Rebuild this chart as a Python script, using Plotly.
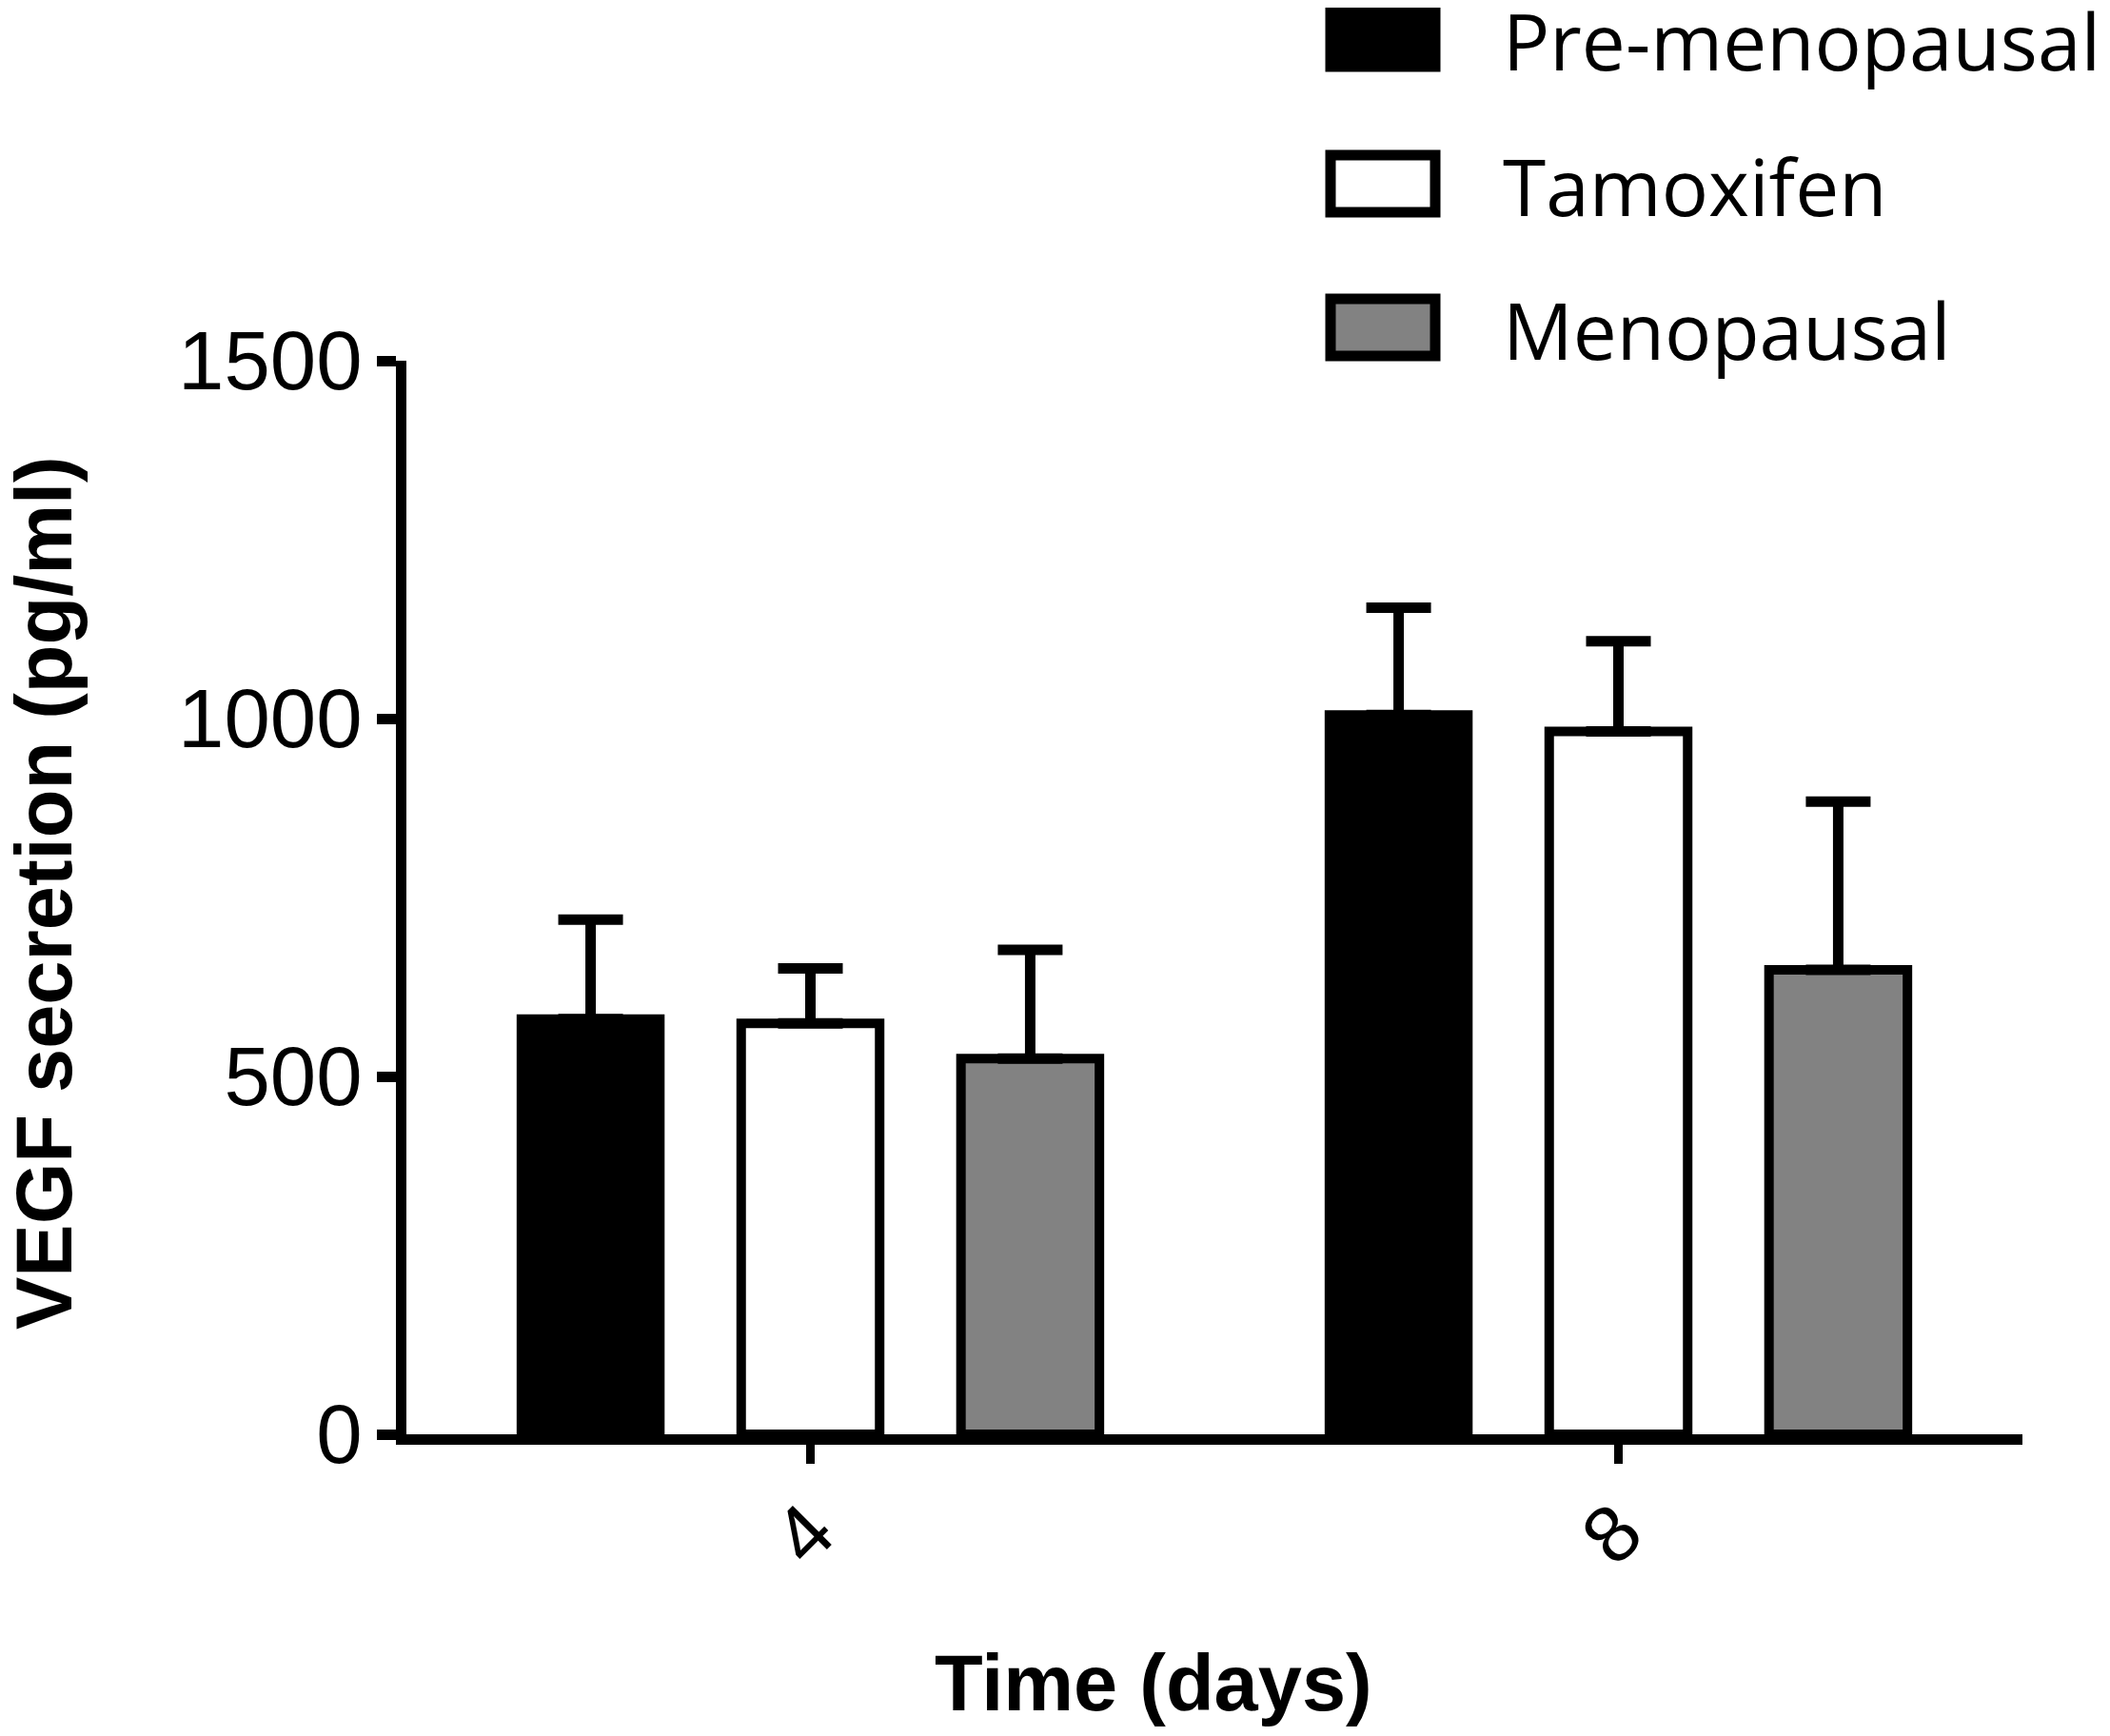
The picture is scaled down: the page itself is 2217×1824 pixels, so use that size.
import plotly.graph_objects as go

# data
days = ["4", "8"]
groups = ["Pre-menopausal", "Tamoxifen", "Menopausal"]
pre_meno = [580, 1005]
tamoxifen = [574, 982]
menopausal = [525, 649]
pre_meno_err = [139, 150]
tamoxifen_err = [77, 126]
menopausal_err = [152, 235]
y_ticks = [0, 500, 1000, 1500]

values = [pre_meno, tamoxifen, menopausal]
errors = [pre_meno_err, tamoxifen_err, menopausal_err]
fills = ["#000000", "#ffffff", "#828282"]

W, H = 2217, 1824
# the html page adds an 8px body margin, so the figure is pulled up/left by that much
L, T = 419, 371
pw, ph = 1698, 1128
R, B = W - L - pw, H - T - ph
REF_L, REF_BOTTOM = 427, 1507   # plot edges as seen in the reference picture


def px_x(x):
    return (x - REF_L) / pw


def px_y(y):
    return (REF_BOTTOM - y) / ph


fig = go.Figure()
for name, vals, errs, col in zip(groups, values, errors, fills):
    fig.add_trace(go.Bar(
        x=days, y=vals, name=name,
        marker=dict(color=col, line=dict(color="#000000", width=10)),
        error_y=dict(type="data", symmetric=False, array=errs,
                     arrayminus=[0] * len(errs),
                     color="#000000", thickness=11, width=34),
    ))

# legend drawn by hand so the swatches can be as large as in the original
box_rows = [40, 193, 344]
for name, col, cy in zip(groups, fills, box_rows):
    fig.add_shape(type="rect", xref="paper", yref="paper",
                  x0=px_x(1398), x1=px_x(1508),
                  y0=px_y(cy + 30), y1=px_y(cy - 30),
                  fillcolor=col, line=dict(color="#000000", width=11))
    fig.add_annotation(text=name, xref="paper", yref="paper",
                       x=px_x(1577), y=px_y(cy + 2), xanchor="left", yanchor="middle",
                       showarrow=False,
                       font=dict(family="Open Sans", size=82, color="#000000"))

title_font = dict(family="Liberation Sans, Arial, sans-serif",
                  size=83, color="#000000", weight="bold")
fig.add_annotation(text="VEGF secretion (pg/ml)", textangle=-90,
                   xref="paper", yref="paper", x=px_x(46), y=px_y(938),
                   xanchor="center", yanchor="middle", showarrow=False, font=title_font)
fig.add_annotation(text="Time (days)", xref="paper", yref="paper",
                   x=px_x(1212), y=px_y(1768), xanchor="center", yanchor="middle",
                   showarrow=False, font=title_font)

fig.update_layout(
    width=W, height=H,
    margin=dict(l=L, r=R, t=T, b=B),
    paper_bgcolor="#ffffff", plot_bgcolor="#ffffff",
    barmode="group", bargap=0.184, bargroupgap=0.37,
    showlegend=False,
)
fig.update_xaxes(
    type="category", range=[-0.5, 1.5],
    showline=True, linecolor="#000000", linewidth=11,
    ticks="outside", ticklen=20, tickwidth=9, tickcolor="#000000",
    tickangle=-45, ticklabelstandoff=-11,
    tickfont=dict(family="Liberation Sans", size=84, color="#000000"),
    showgrid=False, zeroline=False,
)
fig.update_yaxes(
    range=[0, 1500], tickvals=y_ticks,
    showline=True, linecolor="#000000", linewidth=11,
    ticks="outside", ticklen=20, tickwidth=11, tickcolor="#000000",
    ticklabelstandoff=-2,
    tickfont=dict(family="Liberation Sans", size=87, color="#000000"),
    showgrid=False, zeroline=False,
)

fig.write_html("out.html")
